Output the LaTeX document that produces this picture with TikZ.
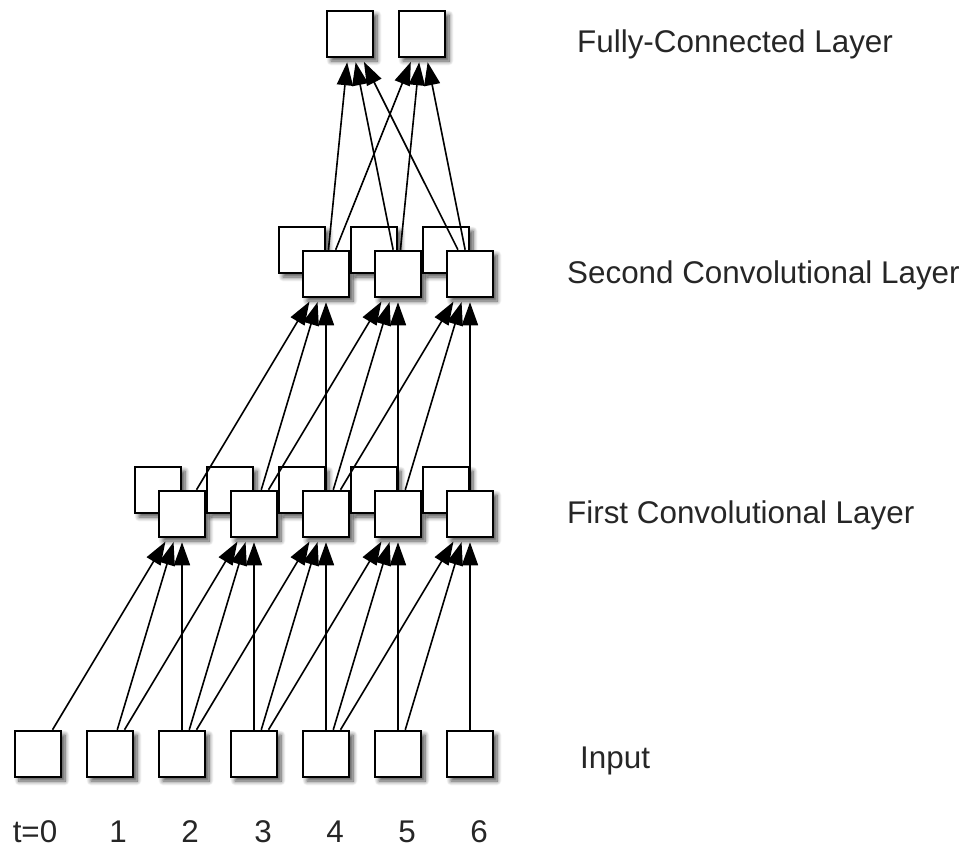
\documentclass[tikz,border=0pt]{standalone}
\usepackage{fontspec}
\setmainfont{Liberation Sans}
\usetikzlibrary{arrows.meta,shadows.blur}
\begin{document}
\begin{tikzpicture}[x=1bp,y=-1bp,
  box/.style={draw, line width=2.5bp, fill=white, minimum size=46bp, inner sep=0pt,
    blur shadow={shadow xshift=4bp, shadow yshift=-4bp, shadow blur radius=4.5bp, shadow blur steps=8, shadow opacity=70}},
  conn/.style={line width=1.6bp, -{Triangle[length=23bp,width=16bp]}, shorten >=4bp},
  lbl/.style={font=\fontsize{31.5}{36}\selectfont, anchor=base west, inner sep=0pt, text=black!85},
  num/.style={font=\fontsize{31.5}{36}\selectfont, anchor=base, inner sep=0pt, text=black!85}]
\useasboundingbox (0,0) rectangle (969,847);
% input row
\foreach \i in {0,...,6} \node[box] (in\i) at ({38+72*\i},754) {};
% first convolutional layer
\foreach \i in {2,...,6} {
  \node[box] (c1b\i) at ({14+72*\i},490) {};
  \node[box] (c1f\i) at ({38+72*\i},514) {};
}
% second convolutional layer
\foreach \i in {4,5,6} {
  \node[box] (c2b\i) at ({14+72*\i},250) {};
  \node[box] (c2f\i) at ({38+72*\i},274) {};
}
% fully connected
\node[box] (fc1) at (350,34) {};
\node[box] (fc2) at (422,34) {};
% connections input -> first conv
\foreach \j in {2,...,6} \foreach \k in {0,1,2} {
  \pgfmathtruncatemacro{\s}{\j-\k}
  \draw[conn] (in\s) -- (c1f\j);
}
% first conv -> second conv
\foreach \j in {4,5,6} \foreach \k in {0,1,2} {
  \pgfmathtruncatemacro{\s}{\j-\k}
  \draw[conn] (c1f\s) -- (c2f\j);
}
% second conv -> fully connected
\foreach \s in {4,5,6} {
  \draw[conn] (c2f\s) -- (fc1);
  \draw[conn] (c2f\s) -- (fc2);
}
% layer labels
\node[lbl] (lfc) at (577,52) {Fully-Connected Layer};
\node[lbl] (lc2) at (567,283) {Second Convolutional Layer};
\node[lbl] (lc1) at (567,523) {First Convolutional Layer};
\node[lbl] (lin) at (580,768) {Input};
% time labels
\node[num] (t0) at (35,842) {t=0};
\node[num] (t1) at (118,842) {1};
\node[num] (t2) at (190,842) {2};
\node[num] (t3) at (263,842) {3};
\node[num] (t4) at (335,842) {4};
\node[num] (t5) at (407,842) {5};
\node[num] (t6) at (479,842) {6};
\end{tikzpicture}
\end{document}
